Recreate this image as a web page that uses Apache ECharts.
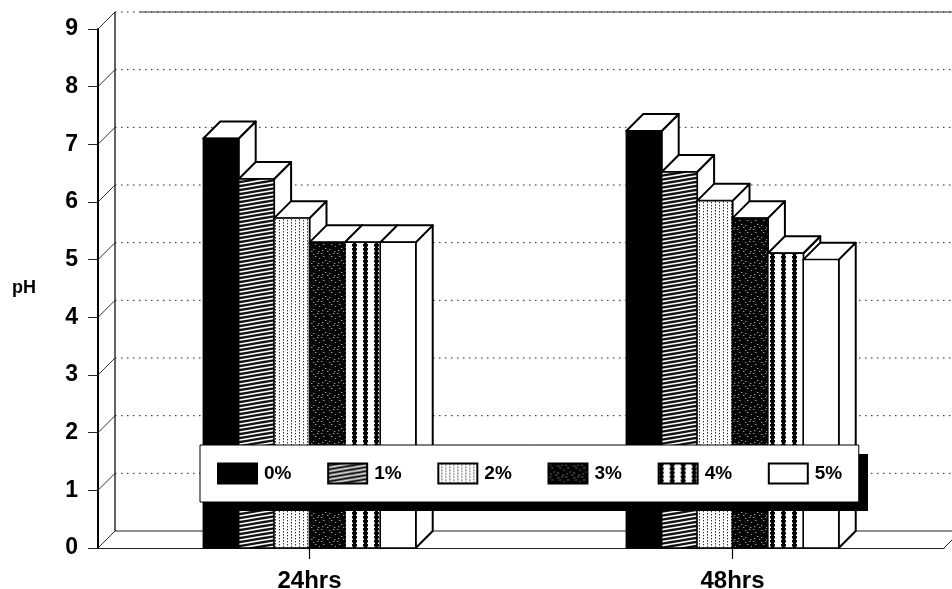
<!DOCTYPE html>
<html>
<head>
<meta charset="utf-8">
<script src="https://cdn.jsdelivr.net/npm/echarts@6/dist/echarts.min.js"></script>
<style>html,body{margin:0;padding:0;background:#fff}#c{width:952px;height:589px}</style>
</head>
<body>
<div id="c"></div>
<script>
var categories = ['24hrs', '48hrs'];
var seriesNames = ['0%', '1%', '2%', '3%', '4%', '5%'];
var v0 = [7.1, 7.23];
var v1 = [6.4, 6.52];
var v2 = [5.72, 6.02];
var v3 = [5.3, 5.72];
var v4 = [5.3, 5.11];
var v5 = [5.3, 5.0];
var yTicks = [0, 1, 2, 3, 4, 5, 6, 7, 8, 9];

var DEPTH = 17, BAR_RATIO = 0.0837;
var FONT = '"Liberation Sans", Arial, sans-serif';

function tile(w, h, draw) {
  var c = document.createElement('canvas');
  c.width = w; c.height = h;
  draw(c.getContext('2d'));
  return { image: c, repeat: 'repeat' };
}
var fills = [
  '#000',
  tile(24, 4, function (g) {
    g.fillStyle = '#111'; g.fillRect(0, 0, 24, 4);
    g.strokeStyle = '#fff'; g.lineWidth = 1.7;
    [-4, 0, 4, 8].forEach(function (o) {
      g.beginPath(); g.moveTo(0, o + 4); g.lineTo(24, o); g.stroke();
    });
  }),
  tile(8, 3, function (g) {
    g.fillStyle = '#fff'; g.fillRect(0, 0, 8, 3);
    g.fillStyle = '#333'; g.fillRect(3, 0, 1, 1.6); g.fillRect(7, 1, 1, 1.4);
  }),
  tile(16, 12, function (g) {
    g.fillStyle = '#050505'; g.fillRect(0, 0, 16, 12);
    g.fillStyle = '#999';
    [[1,1],[9,2],[13,1],[3,4],[11,4],[15,6],[5,8],[9,9],[2,10],[7,11],[14,11]].forEach(function (p) {
      g.fillRect(p[0], p[1], 1.4, 1);
    });
  }),
  tile(11, 4, function (g) {
    g.fillStyle = '#fff'; g.fillRect(0, 0, 11, 4);
    g.fillStyle = '#000';
    g.fillRect(1, 0, 3, 4);
    g.fillRect(0, 0, 5, 2.5);
  }),
  '#fff'
];

function barSeries(name, values, idx) {
  return {
    type: 'custom',
    name: name,
    coordinateSystem: 'cartesian2d',
    clip: false,
    silent: true,
    encode: { x: 0, y: 1 },
    itemStyle: { color: fills[idx], borderColor: '#000', borderWidth: 1 },
    data: values.map(function (v, i) { return [i, v]; }),
    renderItem: function (params, api) {
      var base = api.coord([api.value(0), 0]);
      var top = api.coord([api.value(0), api.value(1)]);
      var w = api.size([1, 0])[0] * BAR_RATIO;
      var x0 = base[0] + (idx - 3) * w, x1 = x0 + w;
      var yT = top[1], yB = base[1], d = DEPTH;
      var faceStyle = { fill: '#fff', stroke: '#000', lineWidth: 2, lineJoin: 'round' };
      return {
        type: 'group',
        children: [
          { type: 'polygon', shape: { points: [[x1, yB], [x1 + d, yB - d], [x1 + d, yT - d], [x1, yT]] }, style: faceStyle },
          { type: 'polygon', shape: { points: [[x0, yT], [x0 + d, yT - d], [x1 + d, yT - d], [x1, yT]] }, style: faceStyle },
          { type: 'rect', shape: { x: x0, y: yT, width: w, height: yB - yT },
            style: { fill: fills[idx], stroke: '#000', lineWidth: 1.4 } }
        ]
      };
    }
  };
}

var wallSeries = {
  type: 'custom',
  name: 'walls',
  coordinateSystem: 'cartesian2d',
  clip: false,
  silent: true,
  z: 0,
  encode: { y: 0 },
  data: yTicks.map(function (t) { return [t]; }),
  renderItem: function (params, api) {
    var cs = params.coordSys, t = api.value(0), d = DEPTH;
    var y = api.coord([0, t])[1];
    var L = cs.x, R = cs.x + cs.width;
    var dotted = t > 0;
    var kids = [
      { type: 'line', shape: { x1: L, y1: y, x2: L + d, y2: y - d },
        style: { stroke: '#333', lineWidth: 1 } },
      { type: 'line', shape: { x1: L + d, y1: y - d, x2: R + d, y2: y - d },
        style: { stroke: '#222', lineWidth: 1, lineDash: dotted ? [1.5, 4.5] : null } }
    ];
    if (t === 0) {
      kids.push({ type: 'line', shape: { x1: R, y1: y, x2: R + d, y2: y - d }, style: { stroke: '#222', lineWidth: 1 } });
      kids.push({ type: 'line', shape: { x1: L + d, y1: y - d, x2: L + d, y2: api.coord([0, 9])[1] - d }, style: { stroke: '#222', lineWidth: 1.4 } });
    }
    if (t === 9) {
      kids.push({ type: 'line', shape: { x1: L + d + 25, y1: y - d, x2: R + d, y2: y - d }, style: { stroke: '#333', lineWidth: 1 } });
    }
    return { type: 'group', children: kids };
  }
};

var chart = echarts.init(document.getElementById('c'), null, { renderer: 'canvas' });
chart.setOption({
  animation: false,
  backgroundColor: '#fff',
  textStyle: { fontFamily: FONT },
  grid: { left: 98, top: 29, width: 846, height: 519, outerBoundsMode: 'none', containLabel: false },
  graphic: [{ type: 'rect', z: 5, silent: true, shape: { x: 209, y: 454, width: 659, height: 57 }, style: { fill: '#000' } }],
  legend: {
    show: true,
    data: seriesNames,
    left: 200, top: 445,
    orient: 'horizontal',
    padding: [17.5, 16.5, 17.5, 17],
    itemWidth: 39, itemHeight: 20, itemGap: 35.7,
    selectedMode: false,
    icon: 'rect',
    backgroundColor: '#fff',
    borderColor: '#000',
    borderWidth: 1,
    textStyle: { fontFamily: FONT, fontWeight: 'bold', fontSize: 19, color: '#000', padding: [4, 0, 0, 2] },
    z: 10
  },
  xAxis: {
    type: 'category',
    data: categories,
    boundaryGap: true,
    axisLine: { show: true, lineStyle: { color: '#222', width: 1 } },
    axisTick: { show: true, alignWithLabel: true, length: 11, lineStyle: { color: '#000', width: 1.2 } },
    axisLabel: { margin: 21, color: '#000', fontFamily: FONT, fontWeight: 'bold', fontSize: 24 },
    splitLine: { show: false }
  },
  yAxis: {
    type: 'value',
    min: 0, max: 9, interval: 1,
    name: 'pH',
    nameLocation: 'middle',
    nameRotate: 0,
    nameGap: 62,
    nameTextStyle: { color: '#000', fontFamily: FONT, fontWeight: 'bold', fontSize: 18, padding: [3, 0, 0, 0] },
    axisLine: { show: true, lineStyle: { color: '#000', width: 2 } },
    axisTick: { show: true, length: 10, lineStyle: { color: '#222', width: 1 } },
    axisLabel: { margin: 20, color: '#000', fontFamily: FONT, fontWeight: 'bold', fontSize: 23 },
    splitLine: { show: false }
  },
  series: [wallSeries,
    barSeries(seriesNames[0], v0, 0),
    barSeries(seriesNames[1], v1, 1),
    barSeries(seriesNames[2], v2, 2),
    barSeries(seriesNames[3], v3, 3),
    barSeries(seriesNames[4], v4, 4),
    barSeries(seriesNames[5], v5, 5)
  ]
});
</script>
</body>
</html>
